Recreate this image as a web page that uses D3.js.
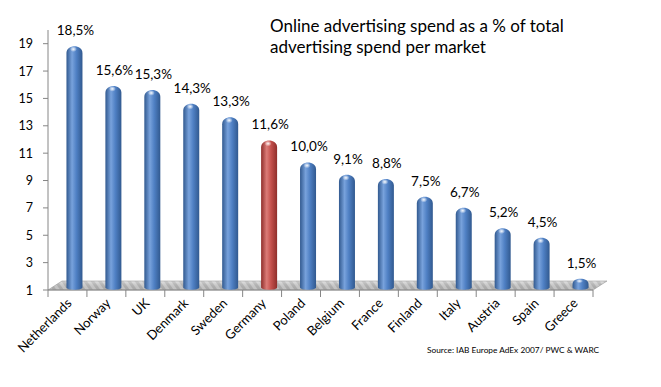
<!DOCTYPE html>
<html>
<head>
<meta charset="utf-8">
<script src="https://cdn.jsdelivr.net/npm/d3@7"></script>
<style>
  body { margin: 0; background: #fff; }
  text { font-family: Lato, "Open Sans", sans-serif; fill: #000; }
</style>
</head>
<body>
<div id="viz"></div>
<script>
const width = 661;
const height = 387;

// data
const countries = ["Netherlands", "Norway", "UK", "Denmark", "Sweden", "Germany", "Poland",
  "Belgium", "France", "Finland", "Italy", "Austria", "Spain", "Greece"];
const shares = [18.5, 15.6, 15.3, 14.3, 13.3, 11.6, 10.0, 9.1, 8.8, 7.5, 6.7, 5.2, 4.5, 1.5];
const highlighted = ["Germany"];
const yTicks = [1, 3, 5, 7, 9, 11, 13, 15, 17, 19];
const titleLines = ["Online advertising spend as a % of total", "advertising spend per market"];
const sourceNote = "Source: IAB Europe AdEx 2007/ PWC & WARC";

const data = countries.map((c, i) => ({ country: c, value: shares[i] }));

// plot frame (front plane) and 3d depth offset
const plotLeft = 48, plotRight = 593, plotTop = 30, plotBottom = 290;
const depthX = 14, depthY = -9;

const svg = d3.select("#viz")
  .append("svg")
  .attr("width", width)
  .attr("height", height);

const x = d3.scaleBand()
  .domain(countries)
  .range([plotLeft, plotRight]);

const y = d3.scaleLinear()
  .domain([1, 20])
  .range([plotBottom, plotTop]);

const defs = svg.append("defs");

// floor stripes
const pat = defs.append("pattern")
  .attr("id", "floor-pat")
  .attr("patternUnits", "userSpaceOnUse")
  .attr("width", 6)
  .attr("height", 6)
  .attr("patternTransform", "rotate(-35)");
pat.append("rect").attr("width", 6).attr("height", 6).attr("fill", "#bdbdbd");
pat.append("rect").attr("width", 3).attr("height", 6).attr("fill", "#dadada");

const floorGrad = defs.append("linearGradient")
  .attr("id", "floor-shade")
  .attr("x1", "0%").attr("x2", "0%").attr("y1", "0%").attr("y2", "100%");
floorGrad.append("stop").attr("offset", "0%").attr("stop-color", "#fff").attr("stop-opacity", 0.3);
floorGrad.append("stop").attr("offset", "100%").attr("stop-color", "#000").attr("stop-opacity", 0.1);

// cylinder gradients
function cylGradient(id, dark, mid, light) {
  const g = defs.append("linearGradient")
    .attr("id", id)
    .attr("x1", "0%").attr("x2", "100%");
  g.append("stop").attr("offset", "0%").attr("stop-color", dark);
  g.append("stop").attr("offset", "35%").attr("stop-color", light);
  g.append("stop").attr("offset", "62%").attr("stop-color", mid);
  g.append("stop").attr("offset", "100%").attr("stop-color", dark);
}
cylGradient("cyl-blue", "#31598f", "#4f80c4", "#78a2dc");
cylGradient("cyl-red", "#8f2e2b", "#c4504c", "#dc7c78");

const spot = defs.append("radialGradient").attr("id", "spot");
spot.append("stop").attr("offset", "0%").attr("stop-color", "#fff").attr("stop-opacity", 0.95);
spot.append("stop").attr("offset", "100%").attr("stop-color", "#fff").attr("stop-opacity", 0);

// floor
const floorPts = [[plotLeft, plotBottom], [plotRight, plotBottom],
  [plotRight + depthX, plotBottom + depthY], [plotLeft + depthX, plotBottom + depthY]];
svg.append("polygon")
  .attr("points", floorPts.map(p => p.join(",")).join(" "))
  .attr("fill", "url(#floor-pat)");
svg.append("polygon")
  .attr("points", floorPts.map(p => p.join(",")).join(" "))
  .attr("fill", "url(#floor-shade)")
  .attr("stroke", "#9a9a9a")
  .attr("stroke-width", 0.6);

// y axis
svg.append("line")
  .attr("x1", plotLeft).attr("x2", plotLeft)
  .attr("y1", y(20)).attr("y2", plotBottom)
  .attr("stroke", "#868686");

const yAxis = svg.append("g");
yAxis.selectAll("line")
  .data(yTicks)
  .join("line")
  .attr("x1", plotLeft - 5).attr("x2", plotLeft)
  .attr("y1", d => y(d)).attr("y2", d => y(d))
  .attr("stroke", "#868686");
yAxis.selectAll("text")
  .data(yTicks)
  .join("text")
  .attr("x", 33)
  .attr("y", d => y(d))
  .attr("dy", "0.36em")
  .attr("text-anchor", "end")
  .attr("font-size", 12.5)
  .text(d => d);

// x axis
svg.append("line")
  .attr("x1", plotLeft).attr("x2", plotRight)
  .attr("y1", plotBottom).attr("y2", plotBottom)
  .attr("stroke", "#868686");

const xTicks = countries.map(c => x(c)).concat([plotRight]);
svg.append("g").selectAll("line")
  .data(xTicks)
  .join("line")
  .attr("x1", d => d).attr("x2", d => d)
  .attr("y1", plotBottom).attr("y2", plotBottom + 7)
  .attr("stroke", "#868686");

svg.append("g").selectAll("text")
  .data(countries)
  .join("text")
  .attr("transform", d => `translate(${x(d) + x.bandwidth() / 2 + 5},${plotBottom + 14}) rotate(-45)`)
  .attr("text-anchor", "end")
  .attr("font-size", 13)
  .text(d => d);

// bars (cylinders at mid depth)
const barW = 16;
const r = barW / 2;
const bars = svg.append("g");

data.forEach(d => {
  const cx = x(d.country) + x.bandwidth() / 2 + depthX / 2;
  const yb = plotBottom + depthY / 2 + 2;
  const yt = y(d.value) + depthY / 2;
  const capH = Math.min(7, (yb - yt) * 0.6);
  const fill = highlighted.includes(d.country) ? "url(#cyl-red)" : "url(#cyl-blue)";

  const p = d3.path();
  p.moveTo(cx - r, yb);
  p.lineTo(cx - r, yt + capH);
  p.bezierCurveTo(cx - r, yt - capH * 0.3, cx + r, yt - capH * 0.3, cx + r, yt + capH);
  p.lineTo(cx + r, yb);
  p.bezierCurveTo(cx + r, yb + 3, cx - r, yb + 3, cx - r, yb);
  p.closePath();

  bars.append("path")
    .attr("d", p.toString())
    .attr("fill", fill);

  bars.append("ellipse")
    .attr("cx", cx - 1)
    .attr("cy", yt + capH * 0.45)
    .attr("rx", 3.5)
    .attr("ry", Math.max(1.5, capH * 0.4))
    .attr("fill", "url(#spot)");

  bars.append("text")
    .attr("x", cx + 1)
    .attr("y", yt - 11)
    .attr("text-anchor", "middle")
    .attr("font-size", 13.5)
    .text(d.value.toFixed(1).replace(".", ",") + "%");
});

// title
svg.append("g").selectAll("text")
  .data(titleLines)
  .join("text")
  .attr("x", 270)
  .attr("y", (d, i) => 32 + i * 21)
  .attr("font-size", 17)
  .text(d => d);

// source
svg.append("text")
  .attr("x", 427)
  .attr("y", 353)
  .attr("font-size", 8.3)
  .text(sourceNote);
</script>
</body>
</html>
